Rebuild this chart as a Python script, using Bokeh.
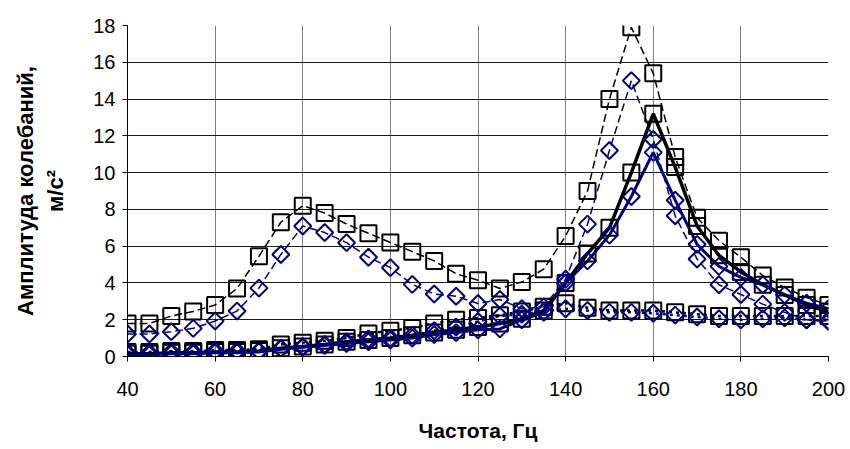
import numpy as np
from bokeh.plotting import figure
from bokeh.models import FixedTicker, Range1d
from bokeh.embed import file_html
from bokeh.resources import INLINE

# Frequencies, Hz
freq = list(range(40, 205, 5))

# Black squares, dashed line (two resonances)
black_dashed = [1.8, 1.8, 2.2, 2.45, 2.8, 3.7, 5.45, 7.3, 8.2, 7.8, 7.2, 6.7, 6.2, 5.7, 5.2,
                4.5, 4.15, 3.7, 4.05, 4.75, 6.55, 9.0, 14.0, 17.9, 15.4, 10.85, 7.55, 6.3, 5.4,
                4.4, 3.75, 3.2, 2.8]
# Blue diamonds, dashed line
blue_dashed = [1.22, 1.22, 1.35, 1.53, 1.93, 2.47, 3.72, 5.55, 7.1, 6.74, 6.19, 5.4, 4.83, 3.92,
               3.4, 3.28, 2.88, 3.1, 2.6, 2.7, 4.2, 7.2, 11.2, 15.0, 11.8, 7.65, 5.3, 3.9, 3.37,
               2.85, 2.4, 2.0, 1.9]
# Black squares, dotted line
black_dotted = [0.25, 0.25, 0.3, 0.3, 0.35, 0.35, 0.4, 0.65, 0.75, 0.85, 1.0, 1.25, 1.4, 1.55,
                1.8, 2.0, 2.1, 2.25, 2.45, 2.7, 2.9, 2.65, 2.5, 2.5, 2.5, 2.4, 2.3, 2.2, 2.2,
                2.2, 2.2, 2.2, 2.2]
# Blue diamonds, dotted line
blue_dotted = [0.2, 0.2, 0.25, 0.25, 0.3, 0.3, 0.3, 0.45, 0.55, 0.65, 0.8, 0.95, 1.0, 1.15,
               1.4, 1.6, 1.9, 2.2, 2.3, 2.45, 2.6, 2.5, 2.4, 2.4, 2.35, 2.25, 2.15, 2.05, 2.0,
               2.05, 2.1, 2.0, 1.95]
# Black squares, solid thick line
black_solid = [0.15, 0.15, 0.2, 0.2, 0.25, 0.25, 0.3, 0.45, 0.55, 0.65, 0.8, 0.9, 1.0, 1.15,
               1.3, 1.45, 1.6, 1.8, 2.05, 2.5, 4.0, 5.6, 7.0, 10.0, 13.2, 10.3, 7.1, 5.5, 4.6,
               3.9, 3.35, 2.8, 2.45]
# Blue diamonds, solid line
blue_solid = [0.1, 0.1, 0.15, 0.15, 0.2, 0.2, 0.25, 0.4, 0.5, 0.6, 0.7, 0.8, 0.9, 1.0, 1.2,
              1.3, 1.45, 1.5, 2.0, 2.4, 4.0, 5.2, 6.6, 8.7, 11.1, 8.5, 6.1, 4.9, 4.3, 3.9, 3.35,
              2.9, 2.6]

x_ticks = [40, 60, 80, 100, 120, 140, 160, 180, 200]
y_ticks = [0, 2, 4, 6, 8, 10, 12, 14, 16, 18]

NAVY = "#000080"
FONT = "Liberation Sans"

p = figure(width=850, height=449, x_range=Range1d(40, 200), y_range=Range1d(0, 18),
           output_backend="svg", toolbar_location=None,
           min_border_left=127, min_border_right=22, min_border_top=25, min_border_bottom=93)
p.outline_line_color = None
p.background_fill_color = "white"
p.border_fill_color = "white"

p.xaxis.ticker = FixedTicker(ticks=x_ticks)
p.yaxis.ticker = FixedTicker(ticks=y_ticks)
p.xgrid.ticker = FixedTicker(ticks=x_ticks)
p.ygrid.ticker = FixedTicker(ticks=y_ticks)
p.xgrid.grid_line_color = "#808080"
p.xgrid.grid_line_width = 1
p.ygrid.grid_line_color = "#1a1a1a"
p.ygrid.grid_line_width = 1

for ax in (p.xaxis, p.yaxis):
    ax.axis_line_color = "black"
    ax.axis_line_width = 1
    ax.major_tick_line_color = "black"
    ax.major_tick_out = 5
    ax.major_tick_in = 0
    ax.minor_tick_line_color = None
    ax.major_label_text_font = FONT
    ax.major_label_text_font_size = "20px"
    ax.major_label_text_color = "black"
    ax.axis_label_text_font = FONT
    ax.axis_label_text_font_size = "21px"
    ax.axis_label_text_font_style = "bold"
    ax.axis_label_text_color = "black"

p.xaxis.axis_label = "Частота, Гц"
p.xaxis.major_label_standoff = 20
p.xaxis.axis_label_standoff = 20
p.yaxis.axis_label = "Амплитуда колебаний,\nм/с²"
p.yaxis.axis_label_text_font_size = "22px"
p.yaxis.major_label_standoff = 7
p.yaxis.axis_label_standoff = 22

# lines
p.line(freq, black_dotted, line_color="black", line_width=2.5, line_dash="3 4")
p.line(freq, blue_dotted, line_color=NAVY, line_width=2.5, line_dash="3 4")
p.line(freq, black_dashed, line_color="black", line_width=1.5, line_dash="8 4")
p.line(freq, blue_dashed, line_color=NAVY, line_width=1.5, line_dash="8 4")
p.line(freq, black_solid, line_color="black", line_width=3.5)
p.line(freq, blue_solid, line_color=NAVY, line_width=3)

# markers
for ys in (black_dotted, black_dashed, black_solid):
    p.scatter(freq, ys, marker="square", size=16, fill_color=None,
              line_color="black", line_width=2)
for ys in (blue_dotted, blue_dashed, blue_solid):
    p.scatter(freq, ys, marker="square", size=12, angle=np.pi / 4, fill_color=None,
              line_color=NAVY, line_width=2)

open("out.html", "w").write(file_html(p, INLINE))
